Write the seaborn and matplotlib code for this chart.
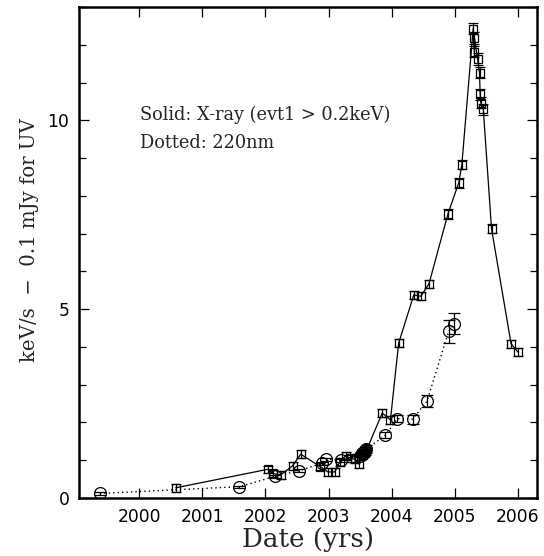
import matplotlib
matplotlib.use("Agg")
import matplotlib.pyplot as plt
from matplotlib.ticker import MultipleLocator
import numpy as np
import pandas as pd
import seaborn as sns

# X-ray count rate (evt1 > 0.2 keV), keV/s
xray_year = [2000.58, 2002.04, 2002.12, 2002.24, 2002.43, 2002.56, 2002.87, 2002.99,
             2003.10, 2003.18, 2003.27, 2003.35, 2003.42, 2003.48, 2003.52, 2003.55,
             2003.57, 2003.59, 2003.61, 2003.85, 2003.98, 2004.11, 2004.35, 2004.46,
             2004.59, 2004.89, 2005.06, 2005.11, 2005.29, 2005.31, 2005.31, 2005.36,
             2005.39, 2005.40, 2005.41, 2005.45, 2005.58, 2005.89, 2006.00]
xray_rate = [0.27, 0.76, 0.65, 0.61, 0.85, 1.16, 0.83, 0.69,
             0.69, 0.96, 1.12, 1.05, 1.02, 0.90, 1.10, 1.15,
             1.20, 1.25, 1.30, 2.25, 2.07, 4.10, 5.38, 5.34,
             5.67, 7.52, 8.34, 8.82, 12.43, 12.18, 11.82, 11.62,
             11.26, 10.69, 10.47, 10.29, 7.13, 4.08, 3.86]
xray_err = [0.10, 0.10, 0.10, 0.10, 0.10, 0.10, 0.10, 0.10,
            0.10, 0.10, 0.10, 0.10, 0.10, 0.10, 0.10, 0.10,
            0.10, 0.10, 0.10, 0.10, 0.10, 0.11, 0.11, 0.11,
            0.11, 0.12, 0.12, 0.12, 0.15, 0.15, 0.15, 0.15,
            0.14, 0.14, 0.14, 0.14, 0.12, 0.11, 0.11]

# UV flux at 220 nm, units of 0.1 mJy
uv_year = [1999.38, 2001.59, 2002.15, 2002.53, 2002.90, 2002.96, 2003.20,
           2003.50, 2003.53, 2003.56, 2003.58, 2003.60, 2003.90, 2004.09,
           2004.33, 2004.56, 2004.90, 2004.99]
uv_flux = [0.12, 0.30, 0.57, 0.72, 0.92, 1.03, 1.00,
           1.12, 1.18, 1.22, 1.27, 1.30, 1.66, 2.10,
           2.09, 2.57, 4.41, 4.62]
uv_err = [0.03, 0.03, 0.04, 0.04, 0.04, 0.04, 0.04,
          0.04, 0.04, 0.04, 0.04, 0.04, 0.08, 0.10,
          0.12, 0.16, 0.30, 0.27]

xray = pd.DataFrame({"year": xray_year, "rate": xray_rate, "err": xray_err})
uv = pd.DataFrame({"year": uv_year, "flux": uv_flux, "err": uv_err})

sns.set_style("ticks")
plt.rcParams["font.family"] = ["DejaVu Sans"]

W, H = 544, 556
fig = plt.figure(figsize=(W / 100, H / 100), dpi=100)
ax = fig.add_axes([79 / W, (H - 498) / H, (537 - 79) / W, (498 - 7) / H])

sns.lineplot(data=xray, x="year", y="rate", estimator=None, sort=True,
             color="black", lw=0.9, ax=ax)
sns.lineplot(data=uv, x="year", y="flux", estimator=None, sort=True,
             color="black", lw=1.0, linestyle=(0, (1, 2.2)), ax=ax)

ax.errorbar(xray["year"], xray["rate"], yerr=xray["err"], fmt="s", ms=6.3,
            mfc="none", mec="black", mew=0.9, ecolor="black", elinewidth=0.9,
            capsize=3.6, capthick=0.9, zorder=3)
ax.errorbar(uv["year"], uv["flux"], yerr=uv["err"], fmt="o", ms=8.5,
            mfc="none", mec="black", mew=0.9, ecolor="black", elinewidth=0.9,
            capsize=4.0, capthick=0.9, zorder=3)

ax.set_xlim(1999.05, 2006.3)
ax.set_ylim(0, 13)
ax.xaxis.set_major_locator(MultipleLocator(1))
ax.yaxis.set_major_locator(MultipleLocator(5))
ax.yaxis.set_minor_locator(MultipleLocator(1))
ax.tick_params(which="both", direction="in", top=True, right=True,
               color="black", labelcolor="black", labelsize=12.3, width=0.9)
ax.tick_params(which="major", length=7.5, pad=7)
ax.tick_params(which="minor", length=5)
for s in ax.spines.values():
    s.set_linewidth(1.8)
    s.set_color("black")

ax.set_xlabel("")
ax.set_ylabel("")
fig.text(308 / W, 1 - 540 / H, "Date (yrs)", ha="center", va="center",
         family="DejaVu Serif", fontsize=18.8)
fig.text(30 / W, 1 - 240 / H, "keV/s  \u2212  0.1 mJy for UV", ha="center",
         va="center", rotation=90, family="DejaVu Serif", fontsize=14.2)

ax.text(0.133, 0.78, "Solid: X-ray (evt1 > 0.2keV)", transform=ax.transAxes,
        ha="left", va="center", family="DejaVu Serif", fontsize=12.8)
ax.text(0.133, 0.723, "Dotted: 220nm", transform=ax.transAxes,
        ha="left", va="center", family="DejaVu Serif", fontsize=12.8)

fig.savefig("out.png", dpi=100, facecolor="white")
